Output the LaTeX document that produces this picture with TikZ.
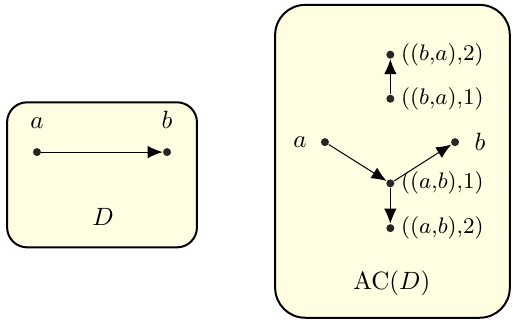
\documentclass[tikz,border=0pt]{standalone}
\usepackage{xcolor}
\usepackage{tikz}
\usetikzlibrary{
  positioning,
  arrows.meta
}
\definecolor{panelfill}{RGB}{255,253,226}
\tikzset{
  >=Latex,
  arc/.style={-{Latex[length=6pt,width=5pt]},thin},
  vertex/.style={circle,fill=black!85,inner sep=0pt,minimum size=3.2pt},
  panel/.style={draw,thick,fill=panelfill},
  lbl/.style={font=\small}
}

\begin{document}
\begin{tikzpicture}
    \useasboundingbox (0,0) rectangle (7.215,4.529);

    % Marcos
    \draw[panel,rounded corners=8pt] (0.10,1.05) rectangle (2.77,3.09);
    \draw[panel,rounded corners=12pt] (3.87,0.06) rectangle (7.17,4.46);

    % Digrafo D (izquierda)
    \node[vertex,label={[label distance=4pt]above:$a$}] (da) at (0.52,2.39) {};
    \node[vertex,label={[label distance=4pt]above:$b$}] (db) at (2.35,2.39) {};
    \node (dname) at (1.45,1.48) {$D$};

    % AC(D) (derecha)
    \node[vertex,label={[label distance=2pt]left:$a$}] (ca) at (4.57,2.53) {};
    \node[vertex,label={[label distance=2.5pt]right:$b$}] (cb) at (6.40,2.53) {};
    \node[vertex,label={[lbl,label distance=-1pt]right:$((a{,}b){,}1)$}] (cab1) at (5.49,1.95) {};
    \node[vertex,label={[lbl,label distance=-1pt]right:$((a{,}b){,}2)$}] (cab2) at (5.49,1.32) {};
    \node[vertex,label={[lbl,label distance=-1pt]right:$((b{,}a){,}1)$}] (cba1) at (5.49,3.14) {};
    \node[vertex,label={[lbl,label distance=-1pt]right:$((b{,}a){,}2)$}] (cba2) at (5.49,3.76) {};
    \node (cname) at (5.51,0.55) {$\mathrm{AC}(D)$};

    % Arcos
    \draw[arc] (da) -- (db);
    \draw[arc] (ca) -- (cab1);
    \draw[arc] (cab1) -- (cb);
    \draw[arc] (cab1) -- (cab2);
    \draw[arc] (cba1) -- (cba2);
\end{tikzpicture}
\end{document}
